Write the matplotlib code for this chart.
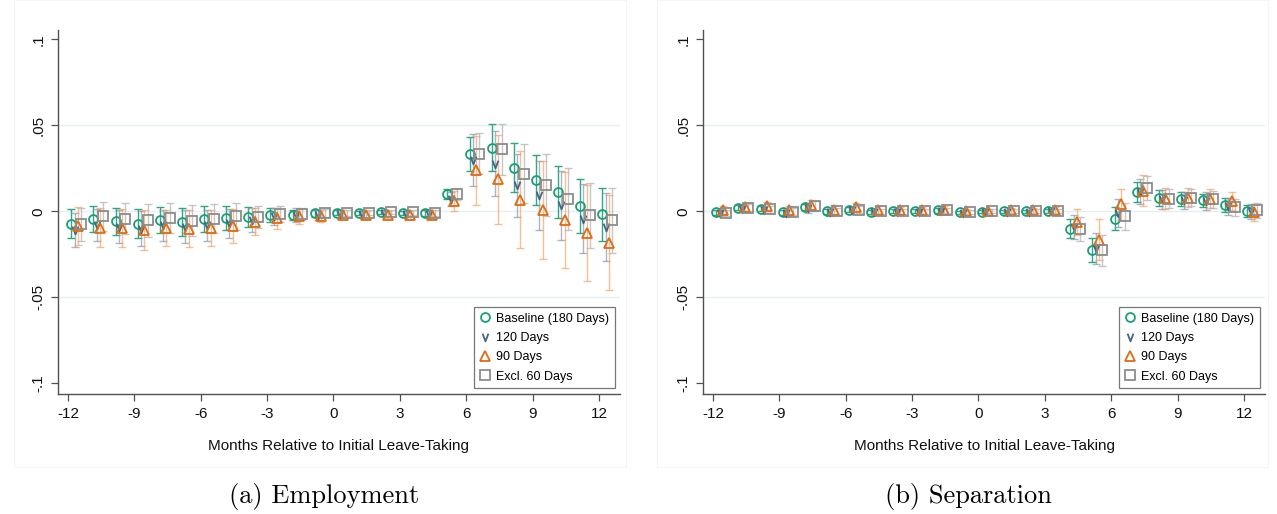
import numpy as np
import matplotlib
matplotlib.use("Agg")
import matplotlib.pyplot as plt
from matplotlib.path import Path
from matplotlib.patches import Rectangle

plt.rcParams['font.family'] = ['Liberation Sans', 'DejaVu Sans']

months = list(range(-12, 13))
series_names = ["Baseline (180 Days)", "120 Days", "90 Days", "Excl. 60 Days"]

# ---- Employment (panel a) ----
emp_base = [-0.0072, -0.0046, -0.0058, -0.0072, -0.0052, -0.0062, -0.0046, -0.0039, -0.0033,
            -0.0020, -0.0020, -0.0012, -0.0008, -0.0010, -0.0004, -0.0008, -0.0010,
            0.0100, 0.0333, 0.0370, 0.0254, 0.0184, 0.0112, 0.0031, -0.0017]
emp_120 = [-0.0110, -0.0080, -0.0090, -0.0100, -0.0080, -0.0090, -0.0080, -0.0070, -0.0050,
           -0.0030, -0.0020, -0.0020, -0.0015, -0.0015, -0.0010, -0.0015, -0.0015,
           0.0070, 0.0297, 0.0277, 0.0151, 0.0093, 0.0035, -0.0043, -0.0091]
emp_90 = [-0.0085, -0.0095, -0.0095, -0.0110, -0.0097, -0.0100, -0.0095, -0.0085, -0.0060,
          -0.0040, -0.0030, -0.0025, -0.0020, -0.0020, -0.0020, -0.0020, -0.0020,
          0.0060, 0.0238, 0.0186, 0.0068, 0.0006, -0.0052, -0.0126, -0.0182]
emp_ex60 = [-0.0076, -0.0030, -0.0043, -0.0052, -0.0039, -0.0056, -0.0043, -0.0030, -0.0033,
            -0.0015, -0.0015, -0.0010, -0.0008, -0.0008, -0.0004, -0.0006, -0.0008,
            0.0100, 0.0335, 0.0360, 0.0219, 0.0151, 0.0070, -0.0023, -0.0052]
emp_base_ci = [0.0085, 0.0077, 0.0080, 0.0085, 0.0075, 0.0080, 0.0075, 0.0070, 0.0060,
               0.0040, 0.0030, 0.0020, 0.0015, 0.0012, 0.0010, 0.0012, 0.0015,
               0.0030, 0.0100, 0.0135, 0.0143, 0.0146, 0.0150, 0.0155, 0.0155]
emp_120_ci = [0.0100, 0.0095, 0.0095, 0.0100, 0.0090, 0.0095, 0.0090, 0.0085, 0.0070,
              0.0050, 0.0040, 0.0030, 0.0020, 0.0018, 0.0015, 0.0018, 0.0020,
              0.0040, 0.0150, 0.0190, 0.0185, 0.0200, 0.0200, 0.0200, 0.0200]
emp_90_ci = [0.0110, 0.0115, 0.0110, 0.0115, 0.0105, 0.0110, 0.0105, 0.0100, 0.0080,
             0.0060, 0.0045, 0.0035, 0.0025, 0.0022, 0.0020, 0.0022, 0.0025,
             0.0060, 0.0200, 0.0260, 0.0280, 0.0285, 0.0280, 0.0280, 0.0275]
emp_ex60_ci = [0.0095, 0.0085, 0.0090, 0.0095, 0.0085, 0.0090, 0.0085, 0.0080, 0.0065,
               0.0045, 0.0035, 0.0025, 0.0018, 0.0015, 0.0012, 0.0015, 0.0018,
               0.0035, 0.0120, 0.0150, 0.0170, 0.0180, 0.0180, 0.0190, 0.0190]

# ---- Separation (panel b) ----
sep_base = [-0.0006, 0.0020, 0.0014, -0.0005, 0.0025, 0.0000, 0.0010, -0.0003, 0.0000,
            0.0000, 0.0005, -0.0006, -0.0002, 0.0000, 0.0000, 0.0003,
            -0.0102, -0.0223, -0.0042, 0.0112, 0.0077, 0.0071, 0.0063, 0.0037, 0.0004]
sep_120 = [-0.0010, 0.0015, 0.0010, -0.0010, 0.0020, -0.0005, 0.0005, -0.0005, -0.0003,
           -0.0003, 0.0000, -0.0008, -0.0005, -0.0003, -0.0003, 0.0000,
           -0.0090, -0.0215, -0.0010, 0.0115, 0.0070, 0.0065, 0.0060, 0.0030, 0.0000]
sep_90 = [0.0005, 0.0025, 0.0030, 0.0005, 0.0035, 0.0010, 0.0025, 0.0008, 0.0005,
          0.0005, 0.0010, 0.0000, 0.0000, 0.0005, 0.0005, 0.0008,
          -0.0062, -0.0165, 0.0042, 0.0120, 0.0075, 0.0078, 0.0072, 0.0060, -0.0005]
sep_ex60 = [-0.0010, 0.0020, 0.0013, -0.0003, 0.0030, 0.0000, 0.0010, 0.0000, 0.0000,
            0.0000, 0.0005, -0.0005, 0.0000, 0.0000, 0.0000, 0.0003,
            -0.0105, -0.0227, -0.0030, 0.0138, 0.0074, 0.0080, 0.0069, 0.0024, 0.0006]
sep_base_ci = [0.0015, 0.0015, 0.0015, 0.0015, 0.0020, 0.0015, 0.0015, 0.0012, 0.0012,
               0.0012, 0.0012, 0.0010, 0.0010, 0.0010, 0.0010, 0.0010,
               0.0055, 0.0070, 0.0065, 0.0060, 0.0045, 0.0040, 0.0040, 0.0040, 0.0035]
sep_120_ci = [0.0020, 0.0020, 0.0020, 0.0020, 0.0030, 0.0020, 0.0020, 0.0015, 0.0015,
              0.0015, 0.0015, 0.0012, 0.0012, 0.0012, 0.0012, 0.0012,
              0.0070, 0.0090, 0.0080, 0.0070, 0.0055, 0.0050, 0.0050, 0.0050, 0.0045]
sep_90_ci = [0.0025, 0.0025, 0.0025, 0.0025, 0.0030, 0.0025, 0.0025, 0.0020, 0.0020,
             0.0020, 0.0020, 0.0015, 0.0015, 0.0015, 0.0015, 0.0015,
             0.0076, 0.0120, 0.0090, 0.0090, 0.0060, 0.0055, 0.0055, 0.0055, 0.0050]
sep_ex60_ci = [0.0020, 0.0020, 0.0020, 0.0020, 0.0030, 0.0020, 0.0020, 0.0015, 0.0015,
               0.0015, 0.0015, 0.0012, 0.0012, 0.0012, 0.0012, 0.0012,
               0.0070, 0.0090, 0.0080, 0.0070, 0.0055, 0.0050, 0.0050, 0.0050, 0.0045]

y_ticks = [-0.1, -0.05, 0, 0.05, 0.1]
y_ticklabels = ["-.1", "-.05", "0", ".05", ".1"]
x_ticks = [-12, -9, -6, -3, 0, 3, 6, 9, 12]
captions = ["(a) Employment", "(b) Separation"]
xlabel = "Months Relative to Initial Leave-Taking"

v_path = Path([(-0.75, 1.0), (0.0, -1.0), (0.75, 1.0)],
              [Path.MOVETO, Path.LINETO, Path.LINETO])

styles = [
    dict(marker='o', color='#1b9e77', ci_color='#1b9e77', ci_alpha=0.9, ms=6.4, off=0.15),
    dict(marker=v_path, color='#4a6382', ci_color='#8796ad', ci_alpha=0.7, ms=5.6, off=0.30),
    dict(marker='^', color='#e06c12', ci_color='#f2a466', ci_alpha=0.7, ms=6.8, off=0.45),
    dict(marker='s', color='#8c8c8c', ci_color='#b4b4b4', ci_alpha=0.75, ms=6.6, off=0.60),
]

W, H = 1277, 514
fig = plt.figure(figsize=(W / 100, H / 100), dpi=100)

# faint panel frames
for x0, x1 in [(14, 626), (657, 1268)]:
    fig.patches.append(Rectangle((x0 / W, (H - 467) / H), (x1 - x0) / W, 467 / H,
                                 transform=fig.transFigure, fill=False,
                                 edgecolor='#f5f5f5', linewidth=0.8))

panels = [
    (58, [emp_base, emp_120, emp_90, emp_ex60], [emp_base_ci, emp_120_ci, emp_90_ci, emp_ex60_ci]),
    (703, [sep_base, sep_120, sep_90, sep_ex60], [sep_base_ci, sep_120_ci, sep_90_ci, sep_ex60_ci]),
]
ax_w = 562
ax_top, ax_bot = 30, 394

for i, (xleft, vals, cis) in enumerate(panels):
    ax = fig.add_axes([xleft / W, (H - ax_bot) / H, ax_w / W, (ax_bot - ax_top) / H])
    ax.set_xlim(-12.45, 12.95)
    ax.set_ylim(-0.1062, 0.1054)
    for y in [-0.05, 0, 0.05]:
        ax.axhline(y, color='#e6eff1', linewidth=1.0, zorder=0)
    m = np.array(months, dtype=float)
    # error bars
    for st, v, c in zip(styles, vals, cis):
        ax.errorbar(m + st['off'], v, yerr=c, fmt='none', ecolor=st['ci_color'],
                    alpha=st['ci_alpha'], elinewidth=1.0, capsize=3.2, capthick=1.0, zorder=2)
    # markers
    for st, v, name in zip(styles, vals, series_names):
        ax.plot(m + st['off'], v, linestyle='none', marker=st['marker'], ms=st['ms'],
                markerfacecolor='none', markeredgecolor=st['color'], markeredgewidth=1.3,
                label=name, zorder=3)
    for s in ['top', 'right']:
        ax.spines[s].set_visible(False)
    for s in ['left', 'bottom']:
        ax.spines[s].set_color('#505050')
        ax.spines[s].set_linewidth(1.0)
    ax.set_xticks(x_ticks)
    ax.set_xticklabels([str(t) for t in x_ticks])
    ax.set_yticks(y_ticks)
    ax.set_yticklabels(y_ticklabels, rotation=90, va='center')
    ax.tick_params(axis='both', direction='out', length=5, width=0.9, color='#505050',
                   labelsize=11, labelcolor='#111111', pad=4)
    ax.set_xlabel(xlabel, fontsize=11, color='#111111', labelpad=13)
    leg = ax.legend(loc='lower right', bbox_to_anchor=(0.991, 0.016), borderaxespad=0,
                    fontsize=9, frameon=True, fancybox=False, edgecolor='#555555',
                    handletextpad=0.5, handlelength=0.8, labelspacing=0.58,
                    borderpad=0.45)
    leg.get_frame().set_linewidth(0.9)
    cx = [324, 968][i]
    fig.text(cx / W, 1 - 497 / H, captions[i], ha='center', va='center',
             fontsize=19, family='cmr10')

fig.savefig('out.png', dpi=100, facecolor='white')
